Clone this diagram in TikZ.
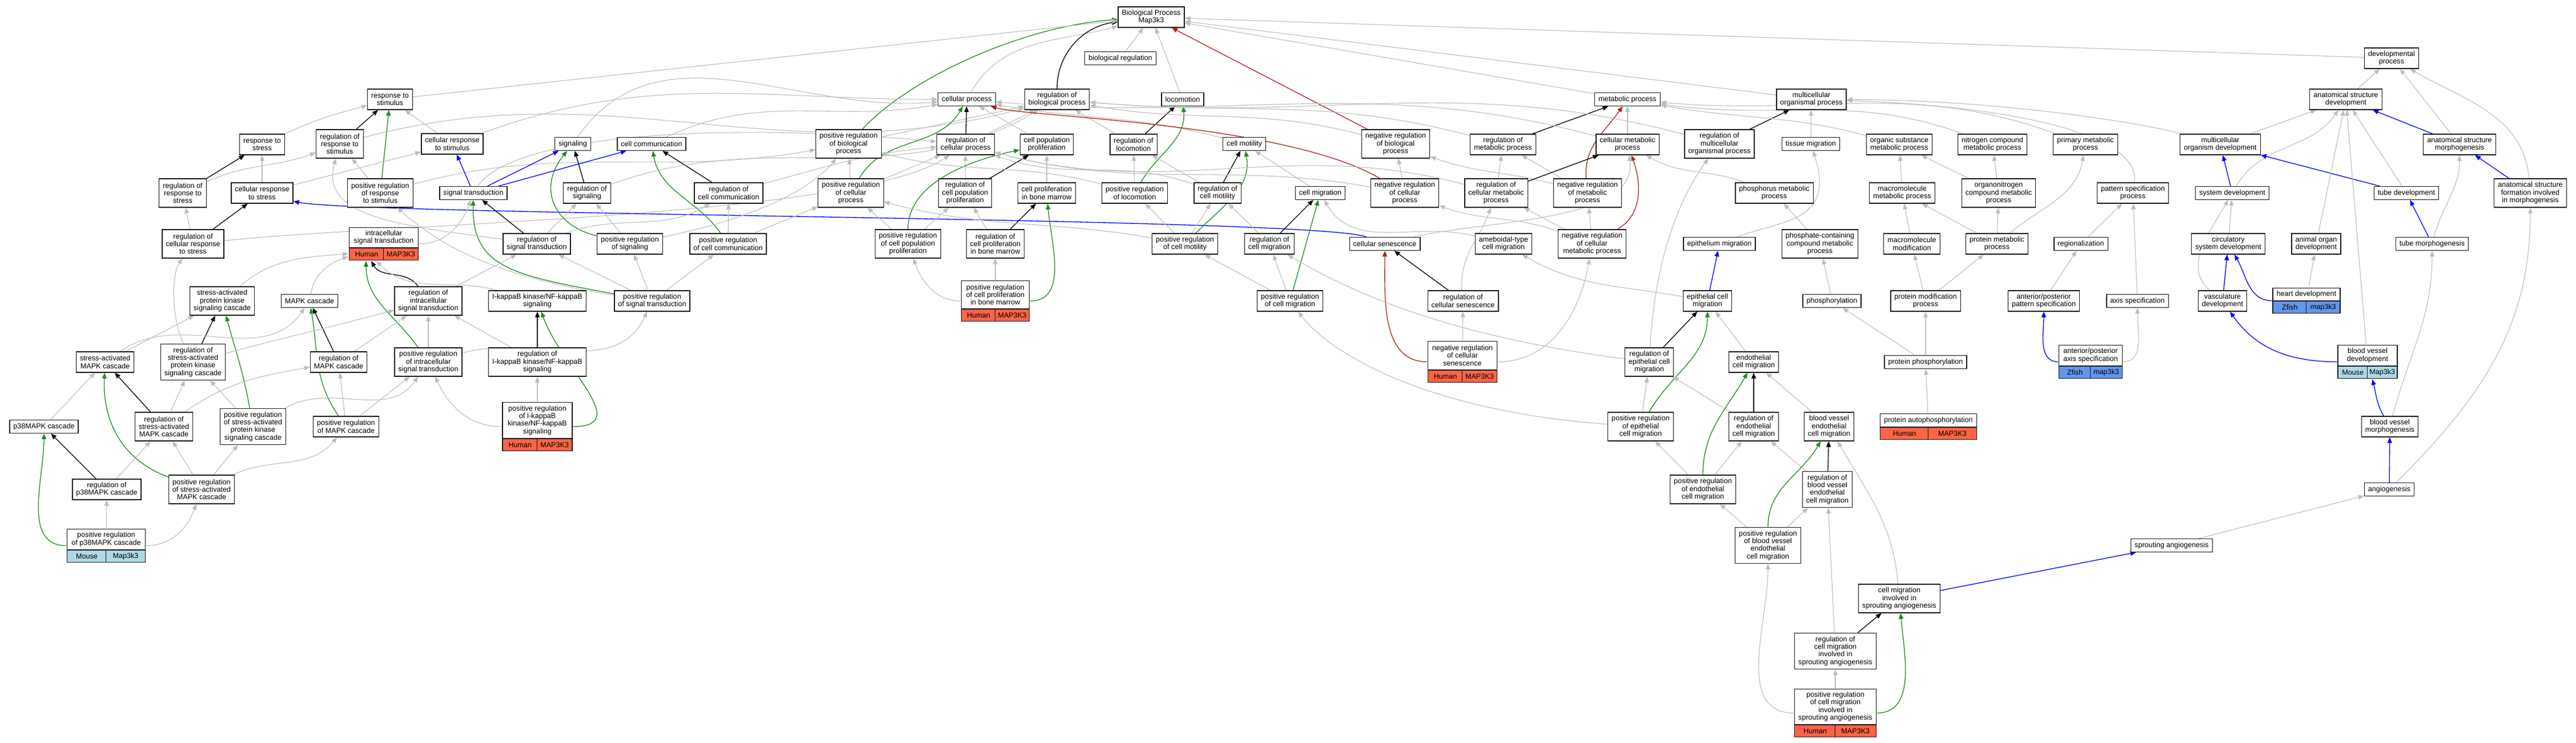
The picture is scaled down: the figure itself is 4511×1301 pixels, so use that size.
\documentclass[tikz,border=0pt]{standalone}
\usepackage{fontspec}
\setmainfont{Liberation Sans}
\usetikzlibrary{arrows.meta,fit,calc}
\pgfdeclarelayer{bg}
\pgfsetlayers{bg,main}
\definecolor{cIs}{HTML}{BEBEBE}
\definecolor{cPr}{HTML}{228B22}
\definecolor{cNr}{HTML}{B22222}
\definecolor{cPo}{HTML}{0000FF}
\definecolor{cHu}{HTML}{FF6347}
\definecolor{cMo}{HTML}{ADD8E6}
\definecolor{cZf}{HTML}{6495ED}
\newcommand\gofont{\fontsize{3.15}{3.325}\selectfont}
\tikzset{
 gobox/.style={draw=black!90, line width=0.33pt, fill=white, align=center, font=\gofont, inner xsep=1.625pt, inner ysep=0.5pt, minimum height=5.75pt},
 ltwo/.style={minimum height=9pt},
 lthree/.style={minimum height=12.5pt},
 lfour/.style={minimum height=15.75pt},
 spcell/.style={draw=black!90, line width=0.33pt, font=\gofont, inner sep=0.25pt, minimum height=5.25pt},
 tipgo/.style={-{Triangle[length=2.5pt,width=2pt]}},
 eIs/.style={draw=cIs, line width=0.28pt, tipgo},
 eRg/.style={draw=black, line width=0.33pt, tipgo},
 ePr/.style={draw=cPr, line width=0.33pt, tipgo},
 eNr/.style={draw=cNr, line width=0.33pt, tipgo},
 ePo/.style={draw=cPo, line width=0.33pt, tipgo}
}
\newcommand\gon[5][]{\node[gobox,#1] (#2) at (#3,-#4) {#5};}
\newcommand\spnode[9]{%
  \node[gobox, minimum width={#4*0.25}, minimum height={#5*0.25}, anchor=south] (#1-l) at (#2,-#3) {#9};
  \path let \p1=(#1-l.south west), \p2=(#1-l.south east) in
    node[spcell, fill=#6, minimum width={(\x2-\x1)/2}, anchor=north west] (#1-a) at (\p1) {#7}
    node[spcell, fill=#6, minimum width={(\x2-\x1)/2}, anchor=north east] (#1-b) at (\p2) {#8};
  \node[fit=(#1-l)(#1-a)(#1-b), inner sep=0pt] (#1) {};
}
\begin{document}
\begin{tikzpicture}[x=0.25pt,y=0.25pt]
\useasboundingbox (0,0) rectangle (4511,-1301);
% ---------------- nodes ----------------
\gon[ltwo]{bp}{2016}{30}{Biological Process\\Map3k3}
\gon{bioreg}{1962}{102}{biological regulation}
\gon[ltwo]{devproc}{4188}{102}{developmental\\process}
\gon[ltwo]{respstim}{683}{174}{response to\\stimulus}
\gon{cellproc}{1693}{174}{cellular process}
\gon[ltwo]{regbio}{1851}{174}{regulation of\\biological process}
\gon{loco}{2071}{174}{locomotion}
\gon{metab}{2850}{174}{metabolic process}
\gon[ltwo]{multiorg}{3172}{174}{multicellular\\organismal process}
\gon[ltwo]{asdev}{4108}{174}{anatomical structure\\development}
% rank 252
\gon[ltwo]{respstress}{459}{253}{response to\\stress}
\gon[lthree]{regrespstim}{595}{252}{regulation of\\response to\\stimulus}
\gon[ltwo]{cellrespstim}{792}{252}{cellular response\\to stimulus}
\gon{signaling}{1003}{252}{signaling}
\gon{cellcomm}{1141}{252}{cell communication}
\gon[lthree]{posregbio}{1486}{252}{positive regulation\\of biological\\process}
\gon[ltwo]{regcellproc}{1691}{253}{regulation of\\cellular process}
\gon[ltwo]{cellpop}{1833}{253}{cell population\\proliferation}
\gon[ltwo]{regloco}{1985}{253}{regulation of\\locomotion}
\gon{cellmot}{2179}{252}{cell motility}
\gon[lthree]{negregbio}{2444}{252}{negative regulation\\of biological\\process}
\gon[ltwo]{regmetab}{2632}{253}{regulation of\\metabolic process}
\gon[ltwo]{cellmetab}{2850}{253}{cellular metabolic\\process}
\gon[lthree]{regmultiorg}{3011}{252}{regulation of\\multicellular\\organismal process}
\gon{tissuemig}{3171}{252}{tissue migration}
\gon[ltwo]{orgsub}{3326}{253}{organic substance\\metabolic process}
\gon[ltwo]{nitro}{3489}{253}{nitrogen compound\\metabolic process}
\gon[ltwo]{primary}{3652}{253}{primary metabolic\\process}
\gon[ltwo]{multidev}{3888}{253}{multicellular\\organism development}
\gon[ltwo]{asmorph}{4307}{253}{anatomical structure\\morphogenesis}
% rank 338
\gon[lthree]{regrespstress}{320}{338}{regulation of\\response to\\stress}
\gon[ltwo]{cellrespstress}{459}{338}{cellular response\\to stress}
\gon[lthree]{posregrespstim}{666}{338}{positive regulation\\of response\\to stimulus}
\gon{sigtrans}{829}{338}{signal transduction}
\gon[ltwo]{regsignaling}{1028}{338}{regulation of\\signaling}
\gon[ltwo]{regcellcomm}{1276}{338}{regulation of\\cell communication}
\gon[lthree]{posregcellproc}{1490}{338}{positive regulation\\of cellular\\process}
\gon[lthree]{regcellpop}{1690}{338}{regulation of\\cell population\\proliferation}
\gon[ltwo]{cellprolbm}{1833}{338}{cell proliferation\\in bone marrow}
\gon[ltwo]{posregloco}{1987}{338}{positive regulation\\of locomotion}
\gon[ltwo]{regcellmot}{2132}{338}{regulation of\\cell motility}
\gon{cellmig}{2312}{338}{cell migration}
\gon[lthree]{negregcellproc}{2460}{338}{negative regulation\\of cellular\\process}
\gon[lthree]{regcellmetab}{2620}{338}{regulation of\\cellular metabolic\\process}
\gon[lthree]{negregmetab}{2780}{338}{negative regulation\\of metabolic\\process}
\gon[ltwo]{phosphorus}{3107}{338}{phosphorus metabolic\\process}
\gon[ltwo]{macromet}{3331}{338}{macromolecule\\metabolic process}
\gon[lthree]{organonitro}{3500}{338}{organonitrogen\\compound metabolic\\process}
\gon[ltwo]{patspec}{3735}{338}{pattern specification\\process}
\gon{sysdev}{3909}{338}{system development}
\gon{tubedev}{4214}{338}{tube development}
\gon[lthree]{asformation}{4431}{338}{anatomical structure\\formation involved\\in morphogenesis}
% rank 427
\gon[lthree]{regcellrespstress}{338}{427}{regulation of\\cellular response\\to stress}
\spnode{ist}{672}{434}{121}{35}{cHu}{Human}{MAP3K3}{intracellular\\signal transduction}
\gon[ltwo]{regsigtrans}{940}{427}{regulation of\\signal transduction}
\gon[ltwo]{posregsignaling}{1103}{427}{positive regulation\\of signaling}
\gon[ltwo]{posregcellcomm}{1275}{427}{positive regulation\\of cell communication}
\gon[lthree]{posregcellpop}{1590}{427}{positive regulation\\of cell population\\proliferation}
\gon[lthree]{regcellprolbm}{1743}{427}{regulation of\\cell proliferation\\in bone marrow}
\gon[ltwo]{posregcellmot}{2075}{427}{positive regulation\\of cell motility}
\gon[ltwo]{regcellmig}{2223}{427}{regulation of\\cell migration}
\gon{cellsen}{2425}{427}{cellular senescence}
\gon[ltwo]{ameboid}{2633}{427}{ameboidal-type\\cell migration}
\gon[lthree]{negregcellmetab}{2788}{427}{negative regulation\\of cellular\\metabolic process}
\gon{epimig}{3011}{427}{epithelium migration}
\gon[lthree]{phosphate}{3187}{427}{phosphate-containing\\compound metabolic\\process}
\gon[ltwo]{macromod}{3348}{427}{macromolecule\\modification}
\gon[ltwo]{protmet}{3497}{427}{protein metabolic\\process}
\gon{regionalization}{3644}{427}{regionalization}
\gon[ltwo]{circsys}{3902}{427}{circulatory\\system development}
\gon[ltwo]{animalorgan}{4056}{427}{animal organ\\development}
\gon{tubemorph}{4259}{427}{tube morphogenesis}
% rank 527
\gon[lthree]{sapk}{389}{527}{stress-activated\\protein kinase\\signaling cascade}
\gon{mapk}{542}{527}{MAPK cascade}
\gon[lthree]{regist}{750}{527}{regulation of\\intracellular\\signal transduction}
\gon[ltwo]{ikk}{941}{527}{I-kappaB kinase/NF-kappaB\\signaling}
\gon[ltwo]{posregsigtrans}{1142}{527}{positive regulation\\of signal transduction}
\spnode{posregbm}{1743}{541}{119}{49}{cHu}{Human}{MAP3K3}{positive regulation\\of cell proliferation\\in bone marrow}
\gon[ltwo]{posregcellmig}{2259}{527}{positive regulation\\of cell migration}
\gon[ltwo]{regcellsen}{2562}{527}{regulation of\\cellular senescence}
\gon[ltwo]{epicellmig}{2990}{527}{epithelial cell\\migration}
\gon{phosphorylation}{3208}{527}{phosphorylation}
\gon[ltwo]{protmod}{3372}{527}{protein modification\\process}
\gon[ltwo]{appattern}{3579}{527}{anterior/posterior\\pattern specification}
\gon{axisspec}{3743}{527}{axis specification}
\gon[ltwo]{vascdev}{3892}{527}{vasculature\\development}
\spnode{heartdev}{4039}{527}{118}{22}{cZf}{Zfish}{map3k3}{heart development}
% rank 634
\gon[ltwo]{samapk}{184}{634}{stress-activated\\MAPK cascade}
\gon[lfour]{regsapk}{338}{634}{regulation of\\stress-activated\\protein kinase\\signaling cascade}
\gon[ltwo]{regmapk}{593}{634}{regulation of\\MAPK cascade}
\gon[lthree]{posregist}{750}{634}{positive regulation\\of intracellular\\signal transduction}
\gon[lthree]{regikk}{941}{634}{regulation of\\I-kappaB kinase/NF-kappaB\\signaling}
\spnode{negregsen}{2561}{648}{121}{50}{cHu}{Human}{MAP3K3}{negative regulation\\of cellular\\senescence}
\gon[lthree]{regepimig}{2888}{634}{regulation of\\epithelial cell\\migration}
\gon[ltwo]{endomig}{3071}{634}{endothelial\\cell migration}
\gon{protphos}{3372}{634}{protein phosphorylation}
\spnode{apaxis}{3661}{641}{111}{36}{cZf}{Zfish}{map3k3}{anterior/posterior\\axis specification}
\spnode{bvdev}{4146}{641}{104}{36}{cMo}{Mouse}{Map3k3}{blood vessel\\development}
% rank 747
\gon{p38}{77}{747}{p38MAPK cascade}
\gon[lthree]{regsamapk}{287}{747}{regulation of\\stress-activated\\MAPK cascade}
\gon[lfour]{posregsapk}{443}{747}{positive regulation\\of stress-activated\\protein kinase\\signaling cascade}
\gon[ltwo]{posregmapk}{606}{747}{positive regulation\\of MAPK cascade}
\spnode{posregikk}{941}{768}{122}{63}{cHu}{Human}{MAP3K3}{positive regulation\\of I-kappaB\\kinase/NF-kappaB\\signaling}
\gon[lthree]{posregepimig}{2873}{747}{positive regulation\\of epithelial\\cell migration}
\gon[lthree]{regendomig}{3071}{747}{regulation of\\endothelial\\cell migration}
\gon[lthree]{bvendomig}{3203}{747}{blood vessel\\endothelial\\cell migration}
\spnode{autophos}{3377}{748}{169}{23}{cHu}{Human}{MAP3K3}{protein autophosphorylation}
\gon[ltwo]{bvmorph}{4185}{747}{blood vessel\\morphogenesis}
% rank 857
\gon[ltwo]{regp38}{187}{857}{regulation of\\p38MAPK cascade}
\gon[lthree]{posregsamapk}{353}{857}{positive regulation\\of stress-activated\\MAPK cascade}
\gon[lthree]{posregendomig}{2982}{857}{positive regulation\\of endothelial\\cell migration}
\gon[lfour]{regbvendomig}{3200}{857}{regulation of\\blood vessel\\endothelial\\cell migration}
\gon{angio}{4184}{857}{angiogenesis}
% rank 955 and below
\spnode{posregp38}{186}{963}{137}{36}{cMo}{Mouse}{Map3k3}{positive regulation\\of p38MAPK cascade}
\gon[lfour]{posregbvendomig}{3096}{955}{positive regulation\\of blood vessel\\endothelial\\cell migration}
\gon{sprouting}{3803}{955}{sprouting angiogenesis}
\gon[lthree]{cmisa}{3326}{1048}{cell migration\\involved in\\sprouting angiogenesis}
\gon[lfour]{regcmisa}{3214}{1140}{regulation of\\cell migration\\involved in\\sprouting angiogenesis}
\spnode{posregcmisa}{3214}{1269}{142}{62}{cHu}{Human}{MAP3K3}{positive regulation\\of cell migration\\involved in\\sprouting angiogenesis}
% ---------------- edges ----------------
\begin{pgfonlayer}{bg}
\fill[white] (0,0) rectangle (4511,-1301);
% top
\draw[eIs] (bioreg) -- (bp);
\draw[eIs] (cellproc) to[out=60,in=195] (bp);
\draw[eRg] (regbio) to[out=90,in=188] (bp);
\draw[ePr] (posregbio) .. controls (1600,-130) and (1800,-45) .. (bp);
\draw[eNr] (negregbio) -- (bp);
\draw[eIs] (loco) -- (bp);
\draw[eIs] (respstim) -- (bp);
\draw[eIs] (metab) -- (bp);
\draw[eIs] (multiorg) -- (bp);
\draw[eIs] (devproc) -- (bp);
% left
\draw[eIs] (respstress) to[out=25,in=195] (respstim);
\draw[eRg] (regrespstim) -- (respstim);
\draw[ePr] (posregrespstim) -- (respstim);
\draw[eIs] (cellrespstim) -- (respstim);
\draw[eRg] (regrespstress) -- (respstress);
\draw[eIs] (regrespstress) to[out=25,in=200] (regrespstim);
\draw[eIs] (cellrespstress) -- (respstress);
\draw[eIs] (cellrespstress) -- (cellrespstim);
\draw[eIs] (posregrespstim) -- (regrespstim);
\draw[eIs] (posregrespstim) to[out=15,in=190] (posregbio);
\draw[eIs] (regrespstim) to[out=15,in=195] (regbio);
\draw[eRg] (regcellrespstress) -- (cellrespstress);
\draw[eIs] (regcellrespstress) -- (regrespstress);
\draw[eIs] (regcellrespstress) .. controls (700,-390) and (1500,-380) .. (regcellproc);
\draw[ePo] (cellsen) .. controls (2300,-380) and (650,-378) .. ([yshift=1pt]cellrespstress.south east);
\draw[eIs] (ist) to[out=0,in=-110] (sigtrans);
\draw[eIs] (sapk) to[out=40,in=185] ([yshift=-4.25pt]ist.west);
\draw[eIs] (mapk) to[out=80,in=200] ([yshift=-5.5pt]ist.west);
\draw[eRg] (regist) to[out=125,in=-60] ([xshift=-5.5pt]ist.south);
\draw[ePr] (posregist) to[out=125,in=-90] ([xshift=-7.75pt]ist.south);
\draw[eIs] (ikk) to[out=165,in=-45] ([xshift=-3.25pt]ist.south);
\draw[eRg] (regsapk) -- (sapk);
\draw[ePr] (posregsapk) to[out=100,in=-75] (sapk);
\draw[eIs] (samapk) -- (sapk);
\draw[eIs] (samapk) to[out=35,in=-125] (mapk);
\draw[eRg] (regmapk) -- (mapk);
\draw[ePr] (posregmapk) to[out=125,in=-80] (mapk);
\draw[eIs] (regsapk) to[out=15,in=195] (regist);
\draw[eIs] (regmapk) -- (regist);
\draw[eIs] (posregist) -- (regist);
\draw[eIs] (regsapk) .. controls (300,-560) and (300,-480) .. (regcellrespstress);
\draw[eRg] (regsamapk) -- (samapk);
\draw[eIs] (regsamapk) -- (regsapk);
\draw[eIs] (regsamapk) to[out=35,in=190] (regmapk);
\draw[eIs] (posregsapk) -- (regsapk);
\draw[eIs] (posregsapk) to[out=30,in=-125] (posregist);
\draw[eIs] (posregmapk) -- (posregist);
\draw[eIs] (posregmapk) -- (regmapk);
\draw[eIs] (p38) -- (samapk);
\draw[eRg] (regp38) -- (p38);
\draw[ePr] (posregp38) to[out=180,in=-90] (p38);
\draw[eIs] (regp38) -- (regsamapk);
\draw[eIs] (posregp38) -- (regp38);
\draw[eIs] (posregp38) to[out=0,in=-110] (posregsamapk);
\draw[ePr] (posregsamapk) .. controls (200,-800) and (180,-720) .. (samapk);
\draw[eIs] (posregsamapk) -- (regsamapk);
\draw[eIs] (posregsamapk) -- (posregsapk);
\draw[eIs] (posregsamapk) to[out=25,in=-130] (posregmapk);
% signalling
\draw[ePo] (sigtrans) -- (cellrespstim);
\draw[ePo] (sigtrans) -- (signaling);
\draw[ePo] (sigtrans) -- (cellcomm);
\draw[eRg] (regsignaling) -- (signaling);
\draw[ePr] (posregsignaling) .. controls (970,-395) and (940,-330) .. (signaling);
\draw[eRg] (regcellcomm) -- (cellcomm);
\draw[ePr] (posregcellcomm) to[out=125,in=-80] (cellcomm);
\draw[eRg] (regsigtrans) -- (sigtrans);
\draw[ePr] (posregsigtrans) .. controls (900,-482) and (826,-470) .. (sigtrans);
\draw[eIs] (regsigtrans) -- (regsignaling);
\draw[eIs] (regsigtrans) to[out=20,in=-150] (regcellcomm);
\draw[eIs] (regsigtrans) .. controls (700,-395) and (560,-380) .. (regrespstim);
\draw[eIs] (posregsignaling) -- (regsignaling);
\draw[eIs] (posregsignaling) .. controls (1330,-380) and (1420,-330) .. (posregbio);
\draw[eIs] (posregcellcomm) -- (regcellcomm);
\draw[eIs] (posregcellcomm) -- (posregcellproc);
\draw[eIs] (posregsigtrans) -- (regsigtrans);
\draw[eIs] (posregsigtrans) -- (posregsignaling);
\draw[eIs] (posregsigtrans) -- (posregcellcomm);
\draw[eIs] (posregsigtrans) .. controls (850,-482) and (760,-420) .. (posregrespstim);
\draw[eIs] (regist) -- (regsigtrans);
\draw[eIs] (posregist) to[out=15,in=-115] (posregsigtrans);
\draw[eRg] (regikk) -- (ikk);
\draw[ePr] (posregikk) to[out=0,in=-70,looseness=1.3] (ikk);
\draw[eIs] (regikk) -- (regist);
\draw[eIs] (posregikk) to[out=180,in=-65] (posregist);
\draw[eIs] (posregikk) -- (regikk);
\draw[eIs] (signaling) to[out=55,in=185] (cellproc);
\draw[eIs] (cellcomm) to[out=25,in=190] (cellproc);
\draw[eIs] (cellrespstim) to[out=20,in=180] (cellproc);
\draw[eIs] (regsignaling) to[out=20,in=-150] (regbio);
\draw[eIs] (regcellcomm) to[out=15,in=185] (regcellproc);
\draw[eIs] (sigtrans) .. controls (900,-230) and (1300,-215) .. (regcellproc);
% middle
\draw[eIs] (posregbio) -- (regbio);
\draw[eRg] (regcellproc) -- (cellproc);
\draw[eIs] (regcellproc) -- (regbio);
\draw[ePr] (posregcellproc) to[out=60,in=-120] (cellproc);
\draw[eIs] (posregcellproc) -- (regcellproc);
\draw[eIs] (posregcellproc) -- (posregbio);
\draw[eIs] (cellpop) -- (cellproc);
\draw[eRg] (regcellpop) -- (cellpop);
\draw[eIs] (regcellpop) -- (regcellproc);
\draw[ePr] (posregcellpop) .. controls (1590,-320) and (1700,-280) .. (cellpop);
\draw[eIs] (posregcellpop) -- (regcellpop);
\draw[eIs] (posregcellpop) -- (posregcellproc);
\draw[eIs] (cellprolbm) -- (cellpop);
\draw[eRg] (regcellprolbm) -- (cellprolbm);
\draw[eIs] (regcellprolbm) -- (regcellpop);
\draw[ePr] (posregbm) to[out=0,in=-85] (cellprolbm);
\draw[eIs] (posregbm) -- (regcellprolbm);
\draw[eIs] (posregbm) to[out=180,in=-70] (posregcellpop);
\draw[eRg] (regloco) -- (loco);
\draw[eIs] (regloco) -- (regbio);
\draw[ePr] (posregloco) to[out=60,in=-85] (loco);
\draw[eIs] (posregloco) -- (regloco);
\draw[eIs] (posregloco) to[out=165,in=-15] (posregbio);
\draw[eIs] (cellmot) to[out=165,in=-10] (cellproc);
\draw[eRg] (regcellmot) -- (cellmot);
\draw[eIs] (regcellmot) -- (regloco);
\draw[eIs] (regcellmot) to[out=160,in=-20] (regcellproc);
\draw[ePr] (posregcellmot) to[out=45,in=-80] (cellmot);
\draw[eIs] (posregcellmot) -- (regcellmot);
\draw[eIs] (posregcellmot) -- (posregloco);
\draw[eIs] (posregcellmot) to[out=170,in=-15] (posregcellproc);
\draw[eIs] (cellmig) -- (cellmot);
\draw[eRg] (regcellmig) -- (cellmig);
\draw[eIs] (regcellmig) -- (regcellmot);
\draw[ePr] (posregcellmig) -- (cellmig);
\draw[eIs] (posregcellmig) -- (regcellmig);
\draw[eIs] (posregcellmig) -- (posregcellmot);
\draw[eIs] (ameboid) to[out=165,in=-60] (cellmig);
\draw[eIs] (negregbio) to[out=165,in=-10] (regbio);
\draw[eNr] (negregcellproc) .. controls (2250,-215) and (1800,-205) .. (cellproc);
\draw[eIs] (negregcellproc) -- (negregbio);
\draw[eIs] (negregcellproc) to[out=170,in=-15] (regcellproc);
\draw[eRg] (regmetab) -- (metab);
\draw[eIs] (regmetab) to[out=165,in=-5] (regbio);
\draw[eIs] (cellmetab) -- (metab);
\draw[eIs] (cellmetab) to[out=165,in=-5] (cellproc);
\draw[eNr] (negregmetab) to[out=95,in=-125] (metab);
\draw[eIs] (negregmetab) -- (regmetab);
\draw[eIs] (negregmetab) to[out=165,in=-20] (negregbio);
\draw[eRg] (regcellmetab) -- (cellmetab);
\draw[eIs] (regcellmetab) -- (regmetab);
\draw[eIs] (regcellmetab) to[out=165,in=-15] (regcellproc);
\draw[eNr] (negregcellmetab) to[out=30,in=-70] (cellmetab);
\draw[eIs] (negregcellmetab) -- (negregmetab);
\draw[eIs] (negregcellmetab) -- (regcellmetab);
\draw[eIs] (negregcellmetab) to[out=160,in=-20] (negregcellproc);
\draw[eIs] (cellsen) .. controls (2600,-385) and (2870,-390) .. (cellmetab);
\draw[eRg] (regcellsen) -- (cellsen);
\draw[eIs] (regcellsen) to[out=95,in=-110] (regcellmetab);
\draw[eNr] (negregsen) to[out=180,in=-90] (cellsen);
\draw[eIs] (negregsen) -- (regcellsen);
\draw[eIs] (negregsen) to[out=0,in=-100] (negregcellmetab);
\draw[eRg] (regmultiorg) -- (multiorg);
\draw[eIs] (regmultiorg) to[out=165,in=-5] (regbio);
\draw[eIs] (tissuemig) -- (multiorg);
\draw[eIs] (epimig) .. controls (3120,-385) and (3215,-390) .. (tissuemig);
\draw[ePo] (epicellmig) -- (epimig);
\draw[eIs] (epicellmig) to[out=170,in=-30] (ameboid);
\draw[eRg] (regepimig) -- (epicellmig);
\draw[eIs] (regepimig) .. controls (2550,-590) and (2380,-520) .. (regcellmig);
\draw[eIs] (regepimig) .. controls (2900,-420) and (2960,-320) .. (regmultiorg);
\draw[ePr] (posregepimig) to[out=60,in=-90] (epicellmig);
\draw[eIs] (posregepimig) -- (regepimig);
\draw[eIs] (posregepimig) .. controls (2500,-720) and (2330,-620) .. (posregcellmig);
\draw[eIs] (endomig) -- (epicellmig);
\draw[eRg] (regendomig) -- (endomig);
\draw[eIs] (regendomig) -- (regepimig);
\draw[ePr] (posregendomig) to[out=90,in=-120] (endomig);
\draw[eIs] (posregendomig) -- (regendomig);
\draw[eIs] (posregendomig) -- (posregepimig);
\draw[eIs] (bvendomig) -- (endomig);
\draw[eRg] (regbvendomig) -- (bvendomig);
\draw[eIs] (regbvendomig) -- (regendomig);
\draw[ePr] (posregbvendomig) to[out=90,in=-120] (bvendomig);
\draw[eIs] (posregbvendomig) -- (regbvendomig);
\draw[eIs] (posregbvendomig) -- (posregendomig);
\draw[eIs] (cmisa) to[out=95,in=-60] (bvendomig);
\draw[ePo] (cmisa) -- (sprouting);
\draw[eRg] (regcmisa) -- (cmisa);
\draw[eIs] (regcmisa) -- (regbvendomig);
\draw[ePr] (posregcmisa) to[out=0,in=-85] (cmisa);
\draw[eIs] (posregcmisa) -- (regcmisa);
\draw[eIs] (posregcmisa) to[out=180,in=-90] (posregbvendomig);
% right
\draw[eIs] (primary) to[out=160,in=-5] (metab);
\draw[eIs] (orgsub) to[out=165,in=-10] (metab);
\draw[eIs] (nitro) to[out=160,in=-8] (metab);
\draw[eIs] (macromet) -- (orgsub);
\draw[eIs] (organonitro) -- (orgsub);
\draw[eIs] (organonitro) -- (nitro);
\draw[eIs] (protmet) -- (macromet);
\draw[eIs] (protmet) -- (organonitro);
\draw[eIs] (protmet) to[out=40,in=-100] (primary);
\draw[eIs] (macromod) -- (macromet);
\draw[eIs] (phosphorus) to[out=160,in=-30] (cellmetab);
\draw[eIs] (phosphate) -- (phosphorus);
\draw[eIs] (phosphorylation) -- (phosphate);
\draw[eIs] (protmod) -- (macromod);
\draw[eIs] (protmod) -- (protmet);
\draw[eIs] (protphos) -- (phosphorylation);
\draw[eIs] (protphos) -- (protmod);
\draw[eIs] (autophos) -- (protphos);
\draw[eIs] (regionalization) -- (patspec);
\draw[eIs] (appattern) -- (regionalization);
\draw[ePo] (apaxis) to[out=180,in=-90] (appattern);
\draw[eIs] (apaxis) to[out=0,in=-90] (axisspec);
\draw[eIs] (axisspec) -- (patspec);
\draw[eIs] (patspec) .. controls (3750,-230) and (3500,-185) .. (multiorg);
\draw[eIs] (multidev) .. controls (3750,-215) and (3500,-175) .. (multiorg);
\draw[eIs] (multidev) -- (asdev);
\draw[eIs] (asdev) -- (devproc);
\draw[ePo] (asmorph) -- (asdev);
\draw[eIs] (asmorph) -- (devproc);
\draw[eIs] (asformation) to[out=95,in=-30] (devproc);
\draw[ePo] (asformation) -- (asmorph);
\draw[ePo] (sysdev) -- (multidev);
\draw[eIs] (sysdev) to[out=60,in=-125] (asdev);
\draw[ePo] (tubedev) -- (multidev);
\draw[eIs] (tubedev) -- (asdev);
\draw[ePo] (tubemorph) -- (tubedev);
\draw[eIs] (tubemorph) to[out=75,in=-90] (asmorph);
\draw[eIs] (circsys) -- (sysdev);
\draw[eIs] (animalorgan) -- (asdev);
\draw[ePo] (vascdev) -- (circsys);
\draw[eIs] (vascdev) to[out=140,in=-120] (sysdev);
\draw[ePo] (heartdev) to[out=180,in=-60] (circsys);
\draw[eIs] (heartdev) -- (animalorgan);
\draw[ePo] (bvdev) to[out=180,in=-55] (vascdev);
\draw[eIs] (bvdev) -- (asdev);
\draw[ePo] (bvmorph) to[out=120,in=-75] (bvdev);
\draw[eIs] (bvmorph) to[out=75,in=-90] (tubemorph);
\draw[ePo] (angio) -- (bvmorph);
\draw[eIs] (angio) to[out=45,in=-90] (asformation);
\draw[eIs] (sprouting) -- (angio);
\end{pgfonlayer}
\end{tikzpicture}
\end{document}
